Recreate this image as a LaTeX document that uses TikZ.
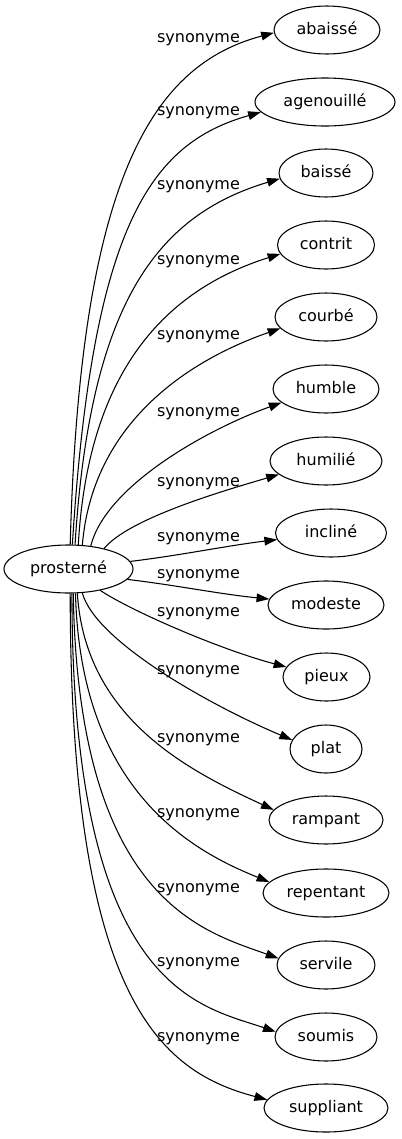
\documentclass[tikz,border=0pt]{standalone}
\usepackage{fontspec}
\setmainfont{DejaVu Sans}
\usetikzlibrary{arrows.meta,shapes.geometric}
\begin{document}
\begin{tikzpicture}[x=0.75pt,y=-0.75pt,
  word/.style={ellipse, draw, line width=0.8pt, inner sep=0pt, minimum height=36pt,
    text height=9pt, text depth=2.5pt, font=\fontsize{12pt}{14pt}\selectfont},
  rel/.style={inner sep=0pt, text height=9pt, text depth=2.5pt, font=\fontsize{12pt}{14pt}\selectfont},
  syn/.style={draw, line width=0.8pt, -{Triangle[length=9.5pt,width=6.5pt]}}]
\useasboundingbox (0,0) rectangle (401,1139);
\node[word, minimum width=96.75pt] (p) at (68.5,569) {prosterné};
\node[word, minimum width=79.5pt] (n1) at (327,30) {abaissé};
\node[word, minimum width=105pt] (n2) at (325,102) {agenouillé};
\node[word, minimum width=70.5pt] (n3) at (326,173) {baissé};
\node[word, minimum width=72.75pt] (n4) at (326,245) {contrit};
\node[word, minimum width=76.5pt] (n5) at (326,317) {courbé};
\node[word, minimum width=79.5pt] (n6) at (326,389) {humble};
\node[word, minimum width=84pt] (n7) at (326,461) {humilié};
\node[word, minimum width=83.25pt] (n8) at (331,533) {incliné};
\node[word, minimum width=87pt] (n9) at (326,605) {modeste};
\node[word, minimum width=65.25pt] (n10) at (326.5,677) {pieux};
\node[word, minimum width=54pt] (n11) at (326,749) {plat};
\node[word, minimum width=85.5pt] (n12) at (326,820) {rampant};
\node[word, minimum width=94.5pt] (n13) at (326,893) {repentant};
\node[word, minimum width=73.5pt] (n14) at (326,965) {servile};
\node[word, minimum width=76.5pt] (n15) at (326,1037) {soumis};
\node[word, minimum width=93pt] (n16) at (326,1108) {suppliant};
\node[rel] (l1) at (198.5,38) {synonyme};
\node[rel] (l2) at (198.5,111) {synonyme};
\node[rel] (l3) at (198.5,185) {synonyme};
\node[rel] (l4) at (198.5,260) {synonyme};
\node[rel] (l5) at (198.5,335) {synonyme};
\node[rel] (l6) at (198.5,412) {synonyme};
\node[rel] (l7) at (198.5,482) {synonyme};
\node[rel] (l8) at (198.5,537) {synonyme};
\node[rel] (l9) at (198.5,574) {synonyme};
\node[rel] (l10) at (198.5,612) {synonyme};
\node[rel] (l11) at (198.5,670) {synonyme};
\node[rel] (l12) at (198.5,738) {synonyme};
\node[rel] (l13) at (198.5,813) {synonyme};
\node[rel] (l14) at (198.5,888) {synonyme};
\node[rel] (l15) at (198.5,962) {synonyme};
\node[rel] (l16) at (198.5,1037) {synonyme};
\draw[syn] (p.86) .. controls +(10,-370) and +(-120,32) .. (n1.183);
\draw[syn] (p.81) .. controls +(20,-320) and +(-110,31) .. (n2.189);
\draw[syn] (p.75) .. controls +(15,-240) and +(-124,37) .. (n3.187);
\draw[syn] (p.68) .. controls +(10,-175) and +(-114,36) .. (n4.191);
\draw[syn] (p.60) .. controls +(10,-120) and +(-95,33) .. (n5.194);
\draw[syn] (p.46) .. controls +(15,-60) and +(-75,27) .. (n6.197);
\draw[syn] (p.30) .. controls +(25,-30) and +(-58,17) .. (n7.196);
\draw[syn] (p.7) .. controls +(50,-6) and +(-50,6) .. (n8.187);
\draw[syn] (p.350) .. controls +(50,6) and +(-50,-5) .. (n9.174);
\draw[syn] (p.326) .. controls +(30,20) and +(-68,-18) .. (n10.166);
\draw[syn] (p.300) .. controls +(13,48) and +(-83,-35) .. (n11.165);
\draw[syn] (p.290) .. controls +(8,127) and +(-82,-38) .. (n12.169);
\draw[syn] (p.286) .. controls +(5,200) and +(-74,-30) .. (n13.169);
\draw[syn] (p.281) .. controls +(5,307) and +(-75,-27) .. (n14.172);
\draw[syn] (p.278) .. controls +(0,397) and +(-76,-26) .. (n15.174);
\draw[syn] (p.274) .. controls +(0,407) and +(-106,-28) .. (n16.172);
\end{tikzpicture}
\end{document}
